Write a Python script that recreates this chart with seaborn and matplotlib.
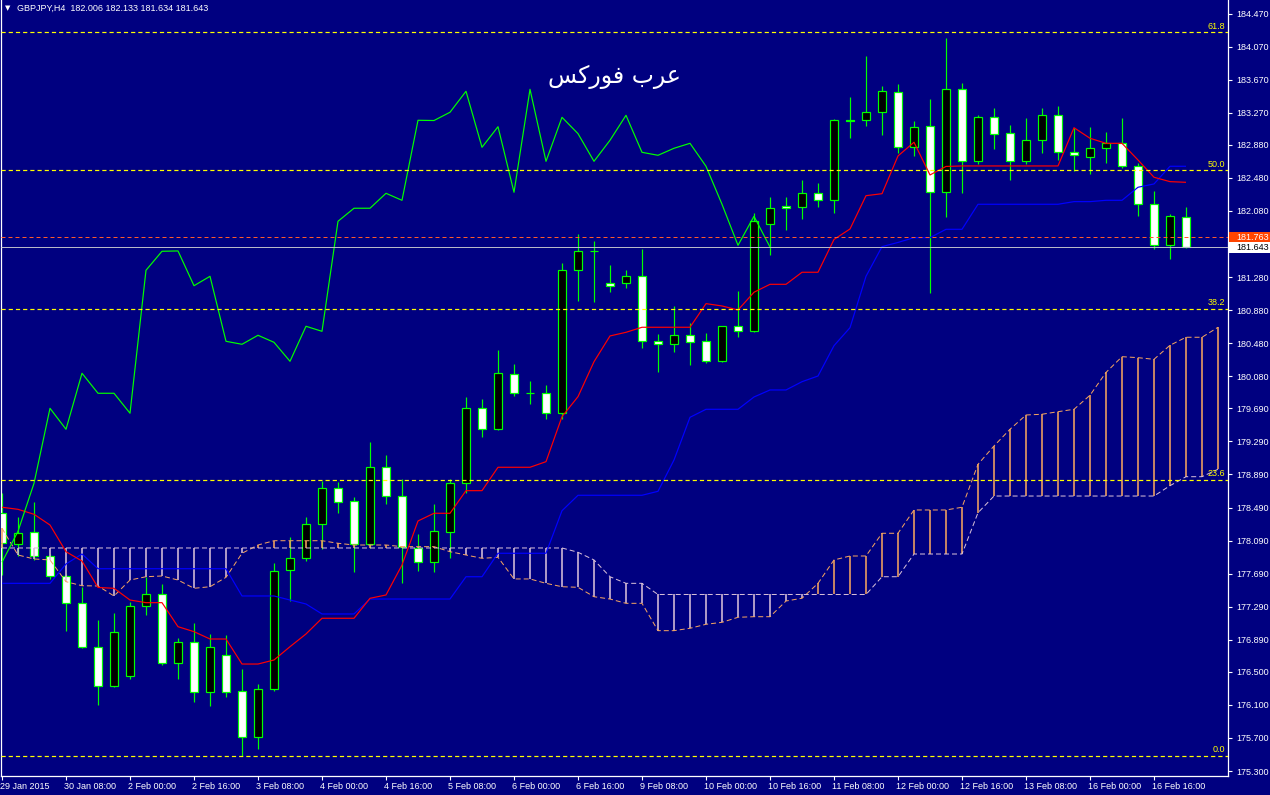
import numpy as np
import matplotlib
matplotlib.use("Agg")
import matplotlib.pyplot as plt
from matplotlib.patches import Rectangle
from matplotlib.transforms import ScaledTranslation
import seaborn as sns

# ---------------- data ----------------
opens = [178.420, 178.045, 178.190, 177.907, 177.665, 177.330, 176.805, 176.329, 176.450, 177.301,
         177.439, 176.604, 176.858, 176.253, 176.701, 176.265, 175.708, 176.289, 177.730, 177.873,
         178.287, 178.723, 178.565, 178.045, 178.977, 178.626, 177.996, 177.827, 178.197, 178.790,
         179.691, 179.437, 180.106, 179.876, 179.873, 179.631, 181.362, 181.599, 181.204, 181.204,
         181.289, 180.502, 180.466, 180.575, 180.502, 180.260, 180.684, 180.623, 181.919, 182.140,
         182.132, 182.294, 182.209, 183.178, 183.178, 183.275, 183.517, 182.851, 183.113, 182.306,
         183.553, 182.681, 183.214, 183.020, 182.681, 182.936, 183.238, 182.790, 182.730, 182.839,
         182.899, 182.621, 182.161, 181.664, 182.006]
highs = [178.662, 178.379, 178.553, 177.927, 177.685, 177.531, 177.128, 177.209, 177.342, 177.652,
         177.564, 176.914, 177.088, 176.959, 176.947, 176.535, 176.350, 177.822, 178.137, 178.379,
         178.811, 178.803, 178.614, 179.280, 179.126, 178.832, 178.169, 178.533, 178.832, 179.828,
         179.804, 180.397, 180.227, 180.022, 179.973, 181.454, 181.801, 181.716, 181.426, 181.365,
         181.620, 180.591, 180.930, 180.724, 180.603, 180.690, 181.111, 182.052, 182.249, 182.249,
         182.455, 182.415, 183.193, 183.460, 183.956, 183.593, 183.617, 183.169, 183.432, 184.171,
         183.629, 183.242, 183.327, 183.117, 183.206, 183.327, 183.351, 183.081, 183.093, 183.032,
         183.202, 182.657, 182.318, 182.040, 182.133]
lows = [177.673, 177.907, 177.855, 177.625, 176.999, 176.793, 176.099, 176.313, 176.414, 177.189,
        176.583, 176.410, 176.139, 176.091, 176.200, 175.482, 175.566, 176.272, 177.362, 177.842,
        177.988, 178.420, 177.706, 177.996, 178.529, 177.572, 177.725, 177.713, 177.875, 178.669,
        179.340, 179.430, 179.844, 179.740, 179.562, 179.558, 180.994, 180.982, 181.103, 181.151,
        180.425, 180.134, 180.376, 180.215, 180.243, 180.252, 180.551, 180.615, 181.544, 181.850,
        181.983, 182.132, 182.059, 182.967, 183.113, 183.000, 182.778, 182.749, 181.083, 182.011,
        182.294, 182.649, 182.834, 182.459, 182.649, 182.786, 182.701, 182.568, 182.531, 182.664,
        182.597, 182.023, 181.623, 181.502, 181.634]
closes = [178.057, 178.178, 177.907, 177.665, 177.330, 176.805, 176.329, 176.979, 177.301, 177.439,
          176.611, 176.858, 176.253, 176.798, 176.260, 175.715, 176.289, 177.721, 177.875, 178.287,
          178.723, 178.560, 178.045, 178.977, 178.626, 178.008, 177.827, 178.202, 178.783, 179.691,
          179.437, 180.115, 179.873, 179.873, 179.631, 181.362, 181.592, 181.596, 181.175, 181.289,
          180.502, 180.466, 180.575, 180.490, 180.260, 180.684, 180.623, 181.955, 182.113, 182.113,
          182.294, 182.209, 183.178, 183.175, 183.275, 183.529, 182.851, 183.100, 182.306, 183.553,
          182.681, 183.214, 183.016, 182.681, 182.936, 183.238, 182.790, 182.754, 182.839, 182.899,
          182.621, 182.161, 181.664, 182.016, 181.643]

tenkan = [178.493, 178.468, 178.408, 178.278, 177.955, 177.842, 177.522, 177.512, 177.370, 177.338,
          177.338, 177.047, 176.987, 176.898, 176.898, 176.595, 176.595, 176.644, 176.805, 176.959,
          177.149, 177.149, 177.149, 177.391, 177.431, 177.794, 178.327, 178.420, 178.420, 178.694,
          178.694, 178.977, 178.977, 178.977, 179.045, 179.590, 179.832, 180.255, 180.567, 180.611,
          180.672, 180.672, 180.672, 180.672, 180.958, 180.930, 180.881, 181.096, 181.192, 181.192,
          181.338, 181.338, 181.735, 181.862, 182.265, 182.289, 182.746, 182.912, 182.516, 182.619,
          182.625, 182.625, 182.625, 182.625, 182.625, 182.625, 182.625, 183.088, 182.960, 182.899,
          182.899, 182.697, 182.488, 182.435, 182.427]
kijun = [177.572, 177.572, 177.572, 177.572, 177.806, 177.927, 177.749, 177.749, 177.749, 177.749,
         177.749, 177.749, 177.749, 177.749, 177.749, 177.419, 177.419, 177.419, 177.370, 177.322,
         177.201, 177.201, 177.201, 177.382, 177.382, 177.382, 177.382, 177.382, 177.382, 177.652,
         177.652, 177.936, 177.936, 177.936, 177.936, 178.451, 178.638, 178.638, 178.638, 178.638,
         178.638, 178.686, 179.065, 179.582, 179.679, 179.679, 179.679, 179.828, 179.913, 179.913,
         180.013, 180.082, 180.449, 180.667, 181.289, 181.648, 181.699, 181.757, 181.757, 181.858,
         181.858, 182.161, 182.161, 182.161, 182.161, 182.161, 182.161, 182.193, 182.193, 182.209,
         182.209, 182.367, 182.407, 182.621, 182.621]
senkou_a = [178.238, 177.915, 177.867, 177.855, 177.592, 177.543, 177.540, 177.419, 177.612, 177.652,
            177.661, 177.612, 177.512, 177.531, 177.645, 177.936, 178.036, 178.088, 178.088, 178.088,
            178.088, 178.057, 178.036, 178.036, 178.036, 178.016, 178.016, 178.016, 177.955, 177.915,
            177.875, 177.887, 177.625, 177.625, 177.572, 177.531, 177.524, 177.410, 177.382, 177.330,
            177.330, 176.999, 176.999, 177.028, 177.076, 177.100, 177.161, 177.168, 177.168, 177.358,
            177.391, 177.572, 177.855, 177.903, 177.903, 178.178, 178.178, 178.460, 178.460, 178.460,
            178.493, 179.013, 179.235, 179.437, 179.610, 179.619, 179.650, 179.679, 179.849, 180.125,
            180.316, 180.304, 180.284, 180.454, 180.551, 180.551, 180.672]
senkou_b = [178.000] * 36 + [177.948, 177.855, 177.652, 177.572, 177.572] + [177.437] * 14 + \
           [177.652, 177.652, 177.927, 177.927, 177.927, 177.927, 178.427] + [178.629] * 11 + \
           [178.754, 178.863, 178.863, 178.953]

chikou_shift = 26
date_labels = ["29 Jan 2015", "30 Jan 08:00", "2 Feb 00:00", "2 Feb 16:00", "3 Feb 08:00",
               "4 Feb 00:00", "4 Feb 16:00", "5 Feb 08:00", "6 Feb 00:00", "6 Feb 16:00",
               "9 Feb 08:00", "10 Feb 00:00", "10 Feb 16:00", "11 Feb 08:00", "12 Feb 00:00",
               "12 Feb 16:00", "13 Feb 08:00", "16 Feb 00:00", "16 Feb 16:00"]
date_positions = list(range(0, 73, 4))
price_ticks = [184.470, 184.070, 183.670, 183.270, 182.880, 182.480, 182.080, 181.280, 180.880,
               180.480, 180.080, 179.690, 179.290, 178.890, 178.490, 178.090, 177.690, 177.290,
               176.890, 176.500, 176.100, 175.700, 175.300]
price_tick_labels = ["184.470", "184.070", "183.670", "183.270", "182.880", "182.480", "182.080",
                     "181.280", "180.880", "180.480", "180.080", "179.690", "179.290", "178.890",
                     "178.490", "178.090", "177.690", "177.290", "176.890", "176.500", "176.100",
                     "175.700", "175.300"]
fib_prices = [175.482, 178.829, 180.899, 182.573, 184.246]
fib_labels = ["0.0", "23.6", "38.2", "50.0", "61.8"]
bid_price = 181.643
line_price = 181.763
header = "GBPJPY,H4  182.006 182.133 181.634 181.643"
watermark = "\ufeb2\ufedb\ufead\ufeee\ufed3 \ufe8f\ufeae\ufecb"   # عرب فوركس (shaped)

# ---------------- style ----------------
BG = "#000080"
sns.set_theme(style="dark", rc={"axes.facecolor": BG, "figure.facecolor": BG})
plt.rcParams['font.family'] = ['Liberation Sans', 'DejaVu Sans']
plt.rcParams['lines.solid_capstyle'] = 'butt'
plt.rcParams['lines.dash_capstyle'] = 'butt'

W, H = 1270, 795
PX = 0.72
fig = plt.figure(figsize=(W / 100, H / 100), dpi=100)
fig.patch.set_facecolor(BG)
ax = fig.add_axes([1 / W, 19 / H, 1227 / W, 776 / H])
ax.set_facecolor(BG)
ax.grid(False)

n = len(closes)
idx = np.arange(n)

# candles
for i in range(n):
    o, h, l, c = opens[i], highs[i], lows[i], closes[i]
    ax.vlines(i, l, h, color="#00FF00", lw=PX * 1.2, zorder=2)
    bottom = min(o, c)
    height = max(abs(c - o), 0.0005)
    face = "black" if c > o else "white"
    ax.add_patch(Rectangle((i - 0.28, bottom), 0.56, height, facecolor=face,
                           edgecolor="#00FF00", lw=PX * 1.2, zorder=3))

# Ichimoku cloud
xc = np.arange(len(senkou_a))
hatch_colors = ["#F4A460" if a >= b else "#D8BFD8" for a, b in zip(senkou_a, senkou_b)]
ax.vlines(xc, senkou_b, senkou_a, colors=hatch_colors, lw=1.15, zorder=4)
sns.lineplot(x=xc, y=senkou_a, color="#F4A460", lw=PX, ax=ax, zorder=4.5)
ax.get_lines()[-1].set_linestyle((0, (5, 3)))
sns.lineplot(x=xc, y=senkou_b, color="#D8BFD8", lw=PX, ax=ax, zorder=4.5)
ax.get_lines()[-1].set_linestyle((0, (5, 3)))

# Tenkan, Kijun, Chikou
sns.lineplot(x=idx, y=kijun, color="#0000FF", lw=PX * 1.2, ax=ax, zorder=5)
sns.lineplot(x=idx, y=tenkan, color="#FF0000", lw=PX * 1.2, ax=ax, zorder=5)
chikou = closes[chikou_shift:]
sns.lineplot(x=np.arange(len(chikou)), y=chikou, color="#00FF00", lw=PX * 1.2, ax=ax, zorder=5)

# Fibonacci levels
for p, lab in zip(fib_prices, fib_labels):
    ax.axhline(p, color="#FFFF00", lw=PX * 1.2, ls=(0, (3.5, 2.5)), zorder=6)
    ax.text(76.45, p + 1.5 / 82.6, lab, color="#FFFF00", ha="right", va="bottom",
            fontsize=6.5, zorder=7)

# price lines
ax.axhline(line_price, color="#FF5A2A", lw=PX, ls=(0, (4, 3)), zorder=6)
ax.axhline(bid_price, color="#B8B8C8", lw=PX, zorder=6)

# axes
ax.set_xlim(-0.0625, 76.625)
ax.set_ylim(175.2395, 184.634)
ax.yaxis.tick_right()
ax.set_yticks(price_ticks)
ax.set_yticklabels(price_tick_labels)
ax.set_xticks(date_positions)
ax.set_xticklabels(date_labels)
ax.tick_params(axis="y", colors="white", direction="out", length=3, width=0.8, pad=3,
               labelsize=6.5, right=True, left=False)
ax.tick_params(axis="x", colors="white", direction="out", length=3, width=0.8, pad=1.5,
               labelsize=6.5, bottom=True)
for lbl in ax.get_xticklabels():
    lbl.set_horizontalalignment("left")
    lbl.set_transform(lbl.get_transform() + ScaledTranslation(-2 / 100, 0, fig.dpi_scale_trans))
for s in ["left", "bottom", "right"]:
    ax.spines[s].set_color("white")
    ax.spines[s].set_linewidth(0.9)
ax.spines["top"].set_visible(False)
ax.set_xlabel("")
ax.set_ylabel("")

# price boxes on the right scale
def ypix(p):
    return 771 - (p - 175.3) * 82.6

for p, fc, tc in [(line_price, "#FF4500", "white"), (bid_price, "white", "black")]:
    yp = ypix(p)
    fig.add_artist(Rectangle((1229 / 100, (H - yp - 5.5) / 100), 41 / 100, 11 / 100,
                             transform=fig.dpi_scale_trans, facecolor=fc, edgecolor="none",
                             zorder=10))
    fig.text(1236 / W, 1 - yp / H, f"{p:.3f}", color=tc, fontsize=6.5, va="center", ha="left",
             zorder=11)

# header and watermark
fig.text(5 / W, 1 - 8 / H, "\u25bc", color="white", fontsize=5, va="center", ha="left",
         family=["DejaVu Sans"])
fig.text(17 / W, 1 - 8 / H, header, color="white", fontsize=6.5, va="center", ha="left")
ax.text(38.3, 183.70, watermark, color="white", fontsize=17, ha="center", va="center",
        family=["DejaVu Sans"], zorder=8)

fig.savefig("out.png", dpi=100, facecolor=BG)
